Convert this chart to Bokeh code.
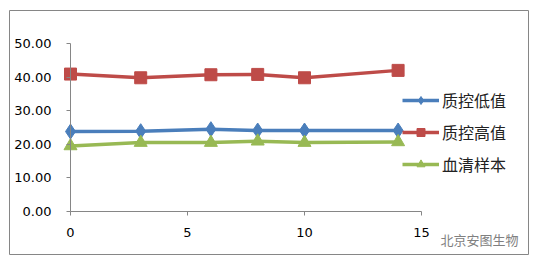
from bokeh.plotting import figure
from bokeh.models import (Range1d, LinearAxis, FixedTicker, NumeralTickFormatter,
                          Legend, LegendItem, Label)
from bokeh.embed import file_html
from bokeh.resources import INLINE

# ---- data ----
days = [0, 3, 6, 8, 10, 14]
qc_low = [23.8, 23.9, 24.5, 24.1, 24.1, 24.1]
qc_high = [40.9, 39.8, 40.7, 40.8, 39.8, 42.0]
serum = [19.5, 20.5, 20.5, 20.9, 20.5, 20.7]
series_names = ["质控低值", "质控高值", "血清样本"]
x_ticks = [0, 5, 10, 15]
y_ticks = [0, 10, 20, 30, 40, 50]
watermark = "北京安图生物"

W, H = 537, 265
p = figure(width=W, height=H, output_backend="svg", toolbar_location=None,
           x_axis_type=None, y_axis_type=None,
           x_range=Range1d(-61 / 23.4, 458 / 23.4),
           y_range=Range1d(-43 / 3.36, 201 / 3.36),
           min_border_left=9, min_border_right=9, min_border_top=10, min_border_bottom=11)
p.outline_line_color = "#868686"
p.outline_line_width = 1
p.xgrid.visible = False
p.ygrid.visible = False
p.background_fill_color = "white"
p.border_fill_color = "white"

axis_color = "#868686"
tick_font = "DejaVu Sans"

yax = LinearAxis(ticker=FixedTicker(ticks=y_ticks), formatter=NumeralTickFormatter(format="0.00"),
                 fixed_location=0, bounds=(0, 50))
yax.axis_line_color = axis_color
yax.major_tick_line_color = axis_color
yax.major_tick_out = 4
yax.major_tick_in = 0
yax.minor_tick_line_color = None
yax.major_label_standoff = 15
yax.major_label_text_font = tick_font
yax.major_label_text_font_size = "13px"
yax.major_label_text_color = "black"
p.add_layout(yax, "left")

xax = LinearAxis(ticker=FixedTicker(ticks=x_ticks), fixed_location=0, bounds=(0, 15))
xax.axis_line_color = axis_color
xax.major_tick_line_color = axis_color
xax.major_tick_out = 4
xax.major_tick_in = 0
xax.minor_tick_line_color = None
xax.major_label_standoff = 12
xax.major_label_text_font = tick_font
xax.major_label_text_font_size = "13px"
xax.major_label_text_color = "black"
p.add_layout(xax, "below")

colors = ["#4A7EBB", "#BE4B48", "#98B954"]
lw = 3.5

l1 = p.line(days, qc_low, line_color=colors[0], line_width=lw)
m1 = p.scatter(days, qc_low, marker="diamond", size=15, fill_color=colors[0], line_color=colors[0])
l2 = p.line(days, qc_high, line_color=colors[1], line_width=lw)
m2 = p.scatter(days, qc_high, marker="square", size=12, fill_color=colors[1], line_color=colors[1])
l3 = p.line(days, serum, line_color=colors[2], line_width=lw)
m3 = p.scatter(days, serum, marker="triangle", size=13, fill_color=colors[2], line_color=colors[2])

legend = Legend(items=[
    LegendItem(label=series_names[0], renderers=[l1, m1]),
    LegendItem(label=series_names[1], renderers=[l2, m2]),
    LegendItem(label=series_names[2], renderers=[l3, m3]),
], location=(393, 78))
legend.border_line_color = None
legend.background_fill_alpha = 0
legend.padding = 0
legend.margin = 0
legend.glyph_width = 37
legend.glyph_height = 20
legend.spacing = 8
legend.label_standoff = 3
legend.label_text_font = "Noto Sans CJK SC"
legend.label_text_font_size = "16px"
legend.label_text_color = "#222222"
legend.label_height = 20
p.add_layout(legend)

wm = Label(x=431, y=6, x_units="screen", y_units="screen", text=watermark,
           text_font="Noto Sans CJK SC", text_font_size="13px", text_color="#808080")
p.add_layout(wm)

open("out.html", "w").write(file_html(p, INLINE))
